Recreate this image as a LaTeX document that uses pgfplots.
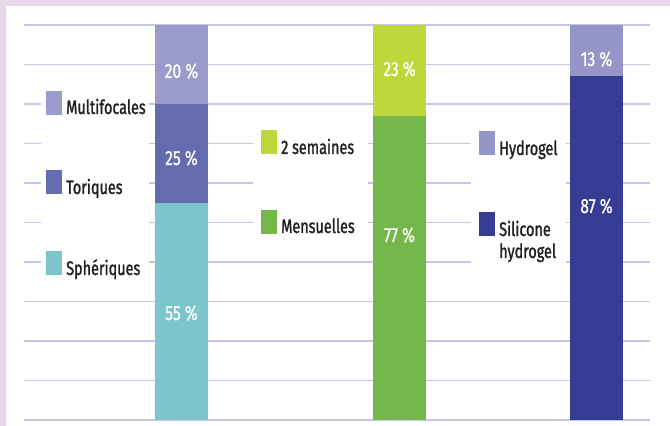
\documentclass[border=0pt]{standalone}
\usepackage{fontspec}
\setmainfont{Fira Sans}[FakeStretch=0.76]
\newfontfamily\labfamily{Fira Sans}[FakeStretch=0.74, FakeBold=1.3]
\newfontfamily\valfamily{Fira Sans}[FakeStretch=0.76, FakeBold=0.7]
\usepackage{pgfplots}
\pgfplotsset{compat=1.18}

\definecolor{frame}{HTML}{E8D9EA}
\definecolor{gridc}{HTML}{C6C6E4}
\definecolor{ink}{HTML}{231F20}
\definecolor{multi}{HTML}{9A9BCB}
\definecolor{tori}{HTML}{646BAE}
\definecolor{spher}{HTML}{7DC5CC}
\definecolor{deuxsem}{HTML}{C0D73B}
\definecolor{mens}{HTML}{75B74B}
\definecolor{hydro}{HTML}{9595C7}
\definecolor{silic}{HTML}{363C91}

\newcommand\labfont{\labfamily\fontsize{19.5}{23}\selectfont}
\newcommand\valfont{\valfamily\fontsize{20.5}{24}\selectfont}

\begin{document}
\begin{tikzpicture}
\useasboundingbox (0,0) rectangle (670pt,426pt);
\fill[white] (0,0) rectangle (670pt,426pt);
\fill[frame] (0,420pt) rectangle (670pt,426pt);
\fill[frame] (0,0) rectangle (6pt,426pt);

\begin{axis}[
  at={(24pt,6pt)}, anchor=south west,
  scale only axis, width=626pt, height=395pt,
  xmin=0, xmax=626, ymin=0, ymax=100,
  ybar stacked, bar width=53,
  xtick=\empty, ytick={0,10,...,100}, yticklabels={},
  ymajorgrids, major grid style={draw=gridc, line width=1.6pt},
  axis line style={draw=none}, major tick style={draw=none},
  clip=false,
]
% lens type
\addplot[fill=spher, draw=none] coordinates {(157.5,55) (375.5,0) (572.5,0)};
\addplot[fill=tori,  draw=none] coordinates {(157.5,25) (375.5,0) (572.5,0)};
\addplot[fill=multi, draw=none] coordinates {(157.5,20) (375.5,0) (572.5,0)};
% replacement frequency
\addplot[fill=mens,    draw=none] coordinates {(157.5,0) (375.5,77) (572.5,0)};
\addplot[fill=deuxsem, draw=none] coordinates {(157.5,0) (375.5,23) (572.5,0)};
% material
\addplot[fill=silic, draw=none] coordinates {(157.5,0) (375.5,0) (572.5,87)};
\addplot[fill=hydro, draw=none] coordinates {(157.5,0) (375.5,0) (572.5,13)};
\end{axis}

\begin{scope}[shift={(0,426pt)}, x=1pt, y=-1pt]
  % white panels behind the keys
  \fill[white] (41,80) rectangle (149,290);
  \fill[white] (253,115) rectangle (368,250);
  \fill[white] (471,115) rectangle (566,285);

  % keys
  \fill[multi]   (46,91)  rectangle (62,115);
  \fill[tori]    (46,170) rectangle (62,194);
  \fill[spher]   (46,251) rectangle (62,275);
  \fill[deuxsem] (261,130) rectangle (277,154);
  \fill[mens]    (261,210) rectangle (277,234);
  \fill[hydro]   (479,131) rectangle (495,155);
  \fill[silic]   (479,212) rectangle (495,236);

  \begin{scope}[every node/.style={anchor=base west, inner sep=0pt, text=ink, font=\labfont}]
    \node at (66,114) {Multifocales};
    \node at (66,194) {Toriques};
    \node at (66,275) {Sphériques};
    \node at (281,154) {2 semaines};
    \node at (281,233) {Mensuelles};
    \node at (499,155) {Hydrogel};
    \node at (499,236) {Silicone};
    \node at (499,258) {hydrogel};
  \end{scope}

  % values inside the bars
  \begin{scope}[every node/.style={anchor=base, inner sep=0pt, text=white, font=\valfont}]
    \node at (181.5,78)  {20 \%};
    \node at (181.5,165) {25 \%};
    \node at (181.5,320) {55 \%};
    \node at (399.5,76)  {23 \%};
    \node at (399.5,242) {77 \%};
    \node at (596.5,66)  {13 \%};
    \node at (596.5,213) {87 \%};
  \end{scope}
\end{scope}
\end{tikzpicture}
\end{document}
